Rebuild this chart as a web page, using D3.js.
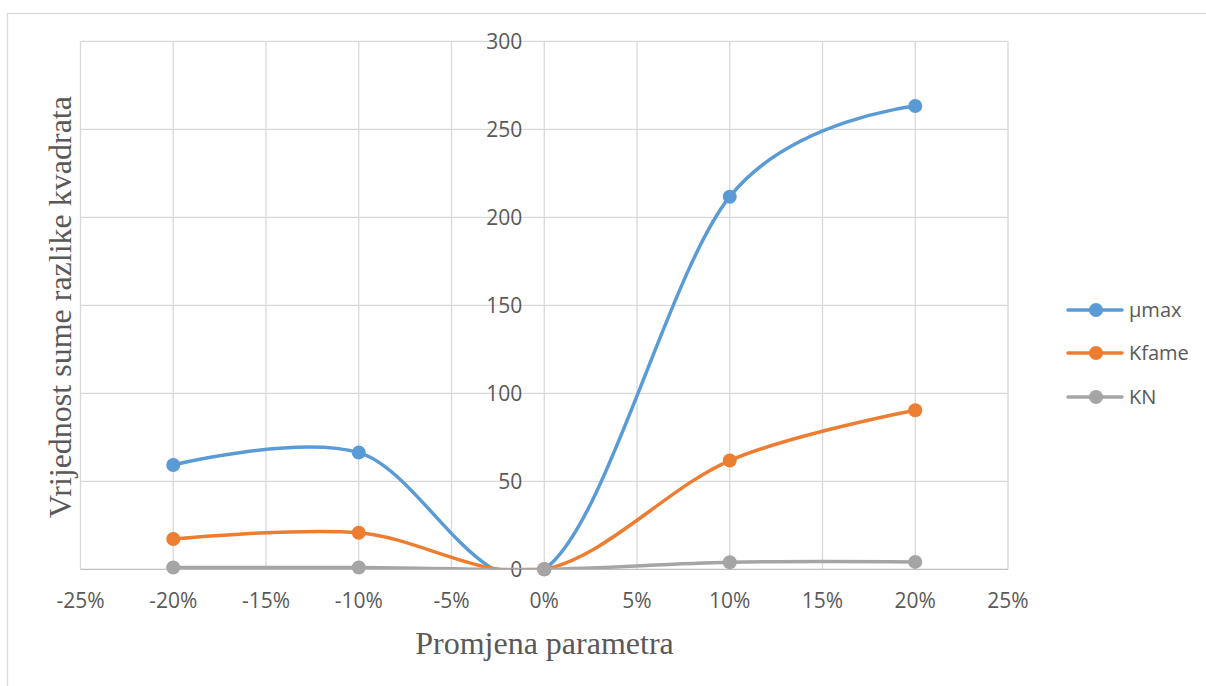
<!DOCTYPE html>
<html>
<head>
<meta charset="utf-8">
<script src="https://cdn.jsdelivr.net/npm/d3@7"></script>
<style>
  body { margin: 0; background: #fff; }
  svg text { fill: #595959; }
</style>
</head>
<body>
<div id="chart"></div>
<script>
// x categories (parameter change, %)
let xValues = [-20, -10, 0, 10, 20];
let xTicks = [-25, -20, -15, -10, -5, 0, 5, 10, 15, 20, 25];
let yTicks = [0, 50, 100, 150, 200, 250, 300];

let seriesNames = ["µmax", "Kfame", "KN"];
let seriesColors = ["#5b9bd5", "#ed7d31", "#a5a5a5"];
let muMax = [59.3, 66.3, 0, 211.7, 263.2];
let kFame = [17.2, 20.8, 0, 61.8, 90.4];
let kN = [1.0, 1.0, 0, 4.0, 4.2];
let seriesValues = [muMax, kFame, kN];

let width = 1206, height = 686;
let svg = d3.select("#chart").append("svg")
    .attr("width", width)
    .attr("height", height);

// outer chart border (runs off the right/bottom edge like the original)
svg.append("rect")
    .attr("x", 7.5).attr("y", 13.5)
    .attr("width", 1300).attr("height", 800)
    .attr("fill", "none")
    .attr("stroke", "#d9d9d9")
    .attr("stroke-width", 1.3);

let x = d3.scaleLinear().domain([-25, 25]).range([80.5, 1008]);
let y = d3.scaleLinear().domain([0, 300]).range([569.3, 41.3]);

// gridlines
svg.selectAll(".vgrid").data(xTicks).enter().append("line")
    .attr("x1", d => x(d)).attr("x2", d => x(d))
    .attr("y1", y(0)).attr("y2", y(300))
    .attr("stroke", "#d9d9d9").attr("stroke-width", 1.3);
svg.selectAll(".hgrid").data(yTicks.filter(t => t > 0)).enter().append("line")
    .attr("x1", x(-25)).attr("x2", x(25))
    .attr("y1", d => y(d)).attr("y2", d => y(d))
    .attr("stroke", "#d9d9d9").attr("stroke-width", 1.3);
// x axis line
svg.append("line")
    .attr("x1", x(-25)).attr("x2", x(25))
    .attr("y1", y(0)).attr("y2", y(0))
    .attr("stroke", "#bfbfbf").attr("stroke-width", 1.3);

// tick labels
svg.selectAll(".xlab").data(xTicks).enter().append("text")
    .attr("x", d => x(d))
    .attr("y", 608)
    .attr("text-anchor", "middle")
    .style("font-family", "'Open Sans', sans-serif")
    .style("font-size", "21px")
    .text(d => d + "%");
svg.selectAll(".ylab").data(yTicks).enter().append("text")
    .attr("x", x(0) - 22)
    .attr("y", d => y(d))
    .attr("dy", "0.35em")
    .attr("text-anchor", "end")
    .style("font-family", "'Open Sans', sans-serif")
    .style("font-size", "21px")
    .text(d => d);

// axis titles
svg.append("text")
    .attr("x", 544.5).attr("y", 654)
    .attr("text-anchor", "middle")
    .style("font-family", "'Liberation Serif', 'Times New Roman', serif")
    .style("font-size", "32px")
    .text("Promjena parametra");
svg.append("text")
    .attr("transform", "translate(71,307) rotate(-90)")
    .attr("text-anchor", "middle")
    .style("font-family", "'Liberation Serif', 'Times New Roman', serif")
    .style("font-size", "32px")
    .text("Vrijednost sume razlike kvadrata");

// clip lines to the plot area (smoothing dips below zero)
svg.append("clipPath").attr("id", "plotclip")
    .append("rect")
    .attr("x", x(-25)).attr("y", y(300))
    .attr("width", x(25) - x(-25)).attr("height", y(0) - y(300));

let line = d3.line()
    .x((d, i) => x(xValues[i]))
    .y(d => y(d))
    .curve(d3.curveCardinal.tension(0));

for (let s = 0; s < seriesValues.length; s++) {
    let g = svg.append("g");
    g.append("path")
        .datum(seriesValues[s])
        .attr("d", line)
        .attr("clip-path", "url(#plotclip)")
        .attr("fill", "none")
        .attr("stroke", seriesColors[s])
        .attr("stroke-width", 3.5)
        .attr("stroke-linecap", "round");
    g.selectAll("circle").data(seriesValues[s]).enter().append("circle")
        .attr("cx", (d, i) => x(xValues[i]))
        .attr("cy", d => y(d))
        .attr("r", 7)
        .attr("fill", seriesColors[s]);
}

// legend
let legendY = [310, 353, 397];
for (let s = 0; s < seriesNames.length; s++) {
    let lg = svg.append("g");
    lg.append("line")
        .attr("x1", 1068).attr("x2", 1122)
        .attr("y1", legendY[s]).attr("y2", legendY[s])
        .attr("stroke", seriesColors[s])
        .attr("stroke-width", 3.5)
        .attr("stroke-linecap", "round");
    lg.append("circle")
        .attr("cx", 1096).attr("cy", legendY[s])
        .attr("r", 7)
        .attr("fill", seriesColors[s]);
    lg.append("text")
        .attr("x", 1129).attr("y", legendY[s])
        .attr("dy", "0.35em")
        .style("font-family", "'Open Sans', sans-serif")
        .style("font-size", "20px")
        .text(seriesNames[s]);
}
</script>
</body>
</html>
